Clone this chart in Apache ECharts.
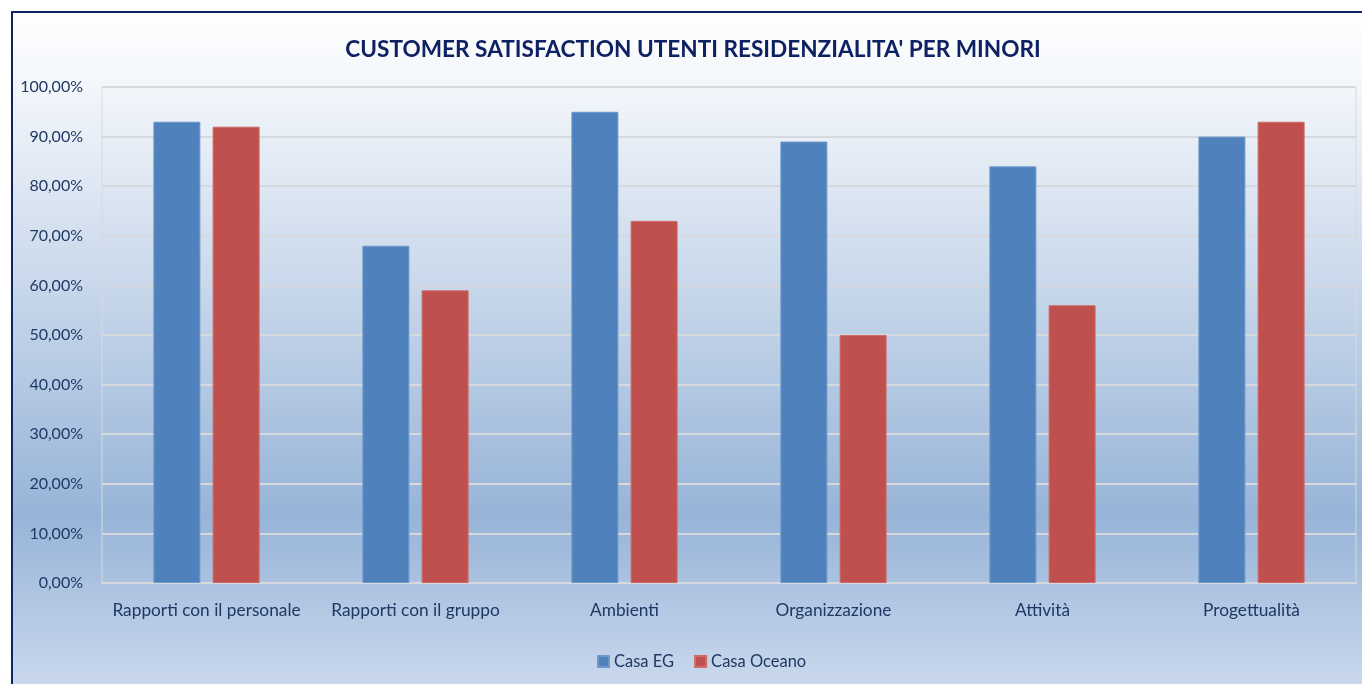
<!DOCTYPE html>
<html>
<head>
<meta charset="utf-8">
<script src="https://cdn.jsdelivr.net/npm/echarts@6/dist/echarts.min.js"></script>
<style>html,body{margin:0;padding:0;background:#fff}#c{width:1362px;height:684px}</style>
</head>
<body>
<div id="c"></div>
<script>
var categories = ["Rapporti con il personale", "Rapporti con il gruppo", "Ambienti", "Organizzazione", "Attività", "Progettualità"];
var casaEG = [93, 68, 95, 89, 84, 90];
var casaOceano = [92, 59, 73, 50, 56, 93];
var seriesNames = ["Casa EG", "Casa Oceano"];

var chart = echarts.init(document.getElementById('c'));
var font = 'Lato, "Open Sans", sans-serif';
var txt = '#1f3864';
chart.setOption({
  backgroundColor: '#ffffff',
  animation: false,
  graphic: [{
    type: 'rect', z: -10,
    shape: {x: 12, y: 12, width: 1370, height: 700},
    style: {
      fill: new echarts.graphic.LinearGradient(0, 0, 0, 1, [
        {offset: 0, color: '#ffffff'},
        {offset: 0.12, color: '#f1f5fa'},
        {offset: 0.72, color: '#97b4d8'},
        {offset: 1, color: '#d2def0'}
      ]),
      stroke: '#0f2462', lineWidth: 2
    }
  }],
  title: {
    text: "CUSTOMER SATISFACTION UTENTI RESIDENZIALITA' PER MINORI",
    left: 688, top: 33, textAlign: 'center',
    textStyle: {fontFamily: font, fontSize: 22.6, fontWeight: 'bold', color: '#0e2163'}
  },
  legend: {
    data: seriesNames, bottom: 9, left: 592, itemWidth: 11, itemHeight: 11, itemGap: 20,
    icon: 'rect',
    textStyle: {fontFamily: font, fontSize: 16.5, color: txt}
  },
  grid: {left: 102, right: 6, top: 87, bottom: 101, show: true, borderColor: '#d6d9de', borderWidth: 1, backgroundColor: 'transparent'},
  xAxis: {
    type: 'category', data: categories,
    axisLine: {show: true, lineStyle: {color: '#d6d9de', width: 2}},
    axisTick: {show: false},
    axisLabel: {fontFamily: font, fontSize: 17.3, color: txt, margin: 19, interval: 0}
  },
  yAxis: {
    type: 'value', min: 0, max: 100, interval: 10,
    axisLine: {show: false}, axisTick: {show: false},
    splitLine: {lineStyle: {color: '#d6d9de', width: 2}},
    axisLabel: {fontFamily: font, fontSize: 16, color: txt, margin: 19,
      formatter: function (v) { return v.toFixed(2).replace('.', ',') + '%'; }}
  },
  series: [
    {name: seriesNames[0], type: 'bar', data: casaEG, barWidth: 47, barGap: '26%',
      itemStyle: {color: '#4f81bd', borderColor: '#6f98cb', borderWidth: 1}},
    {name: seriesNames[1], type: 'bar', data: casaOceano, barWidth: 47,
      itemStyle: {color: '#c0504d', borderColor: '#cf6a67', borderWidth: 1}}
  ]
});
</script>
</body>
</html>
